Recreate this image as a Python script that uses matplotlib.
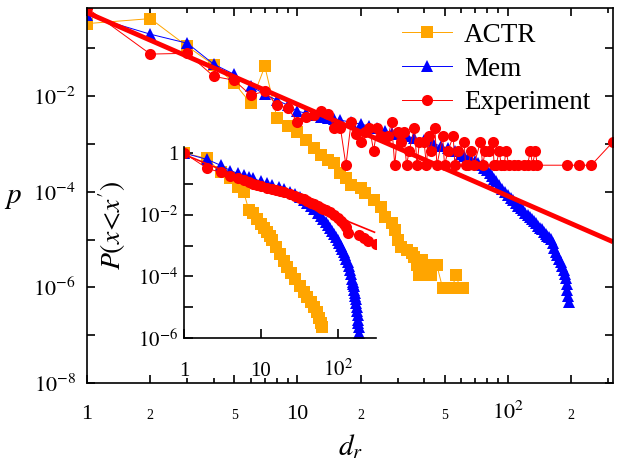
import matplotlib
matplotlib.use("Agg")
import matplotlib.pyplot as plt
from matplotlib.ticker import FixedLocator, FixedFormatter, NullFormatter, NullLocator

plt.rcParams['font.family'] = ['Liberation Serif', 'DejaVu Serif']
plt.rcParams['mathtext.fontset'] = 'stix'

# main panel: p(d_r)
actr_x = [1, 2, 3, 4, 5, 6, 7, 8, 9, 10, 11, 12, 13, 14, 15, 16, 17, 18,
          20, 21, 23, 25, 26, 28, 29, 30, 31, 33, 35, 36, 37, 38, 39, 40, 41, 43,
          46, 49, 52, 54, 57, 59, 61]
actr_p = [0.33, 0.42, 0.11, 0.045, 0.019, 0.0071, 0.042, 0.0035, 0.0024, 0.0018,
          0.0012, 8.3e-4, 5.8e-4, 4.6e-4, 4.0e-4, 2.45e-4, 1.93e-4, 1.37e-4,
          1.19e-4, 9.3e-5, 6.7e-5, 4.8e-5, 2.9e-5, 2.2e-5, 1.57e-5, 9.7e-6, 6.9e-6,
          6.0e-6, 5.2e-6, 4.3e-6, 2.9e-6, 1.8e-6, 3.7e-6, 1.8e-6, 2.9e-6, 1.8e-6,
          2.9e-6, 9.6e-7, 9.6e-7, 9.6e-7, 1.8e-6, 9.6e-7, 9.6e-7]

mem_x = [1, 2, 3, 4, 5, 6, 7, 8, 9, 10, 11, 12, 13, 14, 15, 16,
         18, 20, 22, 24, 26, 28, 30, 33, 36, 40, 44, 48, 52, 56, 60, 62,
         65, 67, 70, 72, 75, 77, 80, 82, 84, 86, 88, 91, 94, 97, 100, 103, 106,
         109, 112, 115, 118, 121, 124, 127, 130, 133, 136, 139, 142, 145, 148,
         151, 154, 157, 160, 163, 166, 169, 172, 175, 178, 181, 184, 186, 188,
         190, 192, 194, 195]
mem_p = [0.495, 0.198, 0.128, 0.0467, 0.0288, 0.0162, 0.011, 0.0082, 0.0065, 0.00486,
         0.0044, 0.0040, 0.00363, 0.00347, 0.00331, 0.00315,
         0.00286, 0.0026, 0.00236, 0.00214, 0.00185, 0.00168, 0.0016,
         0.00146, 0.00132, 0.0012, 0.00104, 0.0009, 0.00082, 0.00071, 0.00061, 5.6e-4,
         5.05e-4, 4.7e-4, 4.36e-4, 4.0e-4, 3.6e-4, 3.2e-4, 2.83e-4, 2.45e-4, 2.12e-4,
         1.88e-4, 1.67e-4, 1.37e-4, 1.13e-4, 9.8e-5, 8.5e-5, 7.5e-5, 6.7e-5,
         5.8e-5, 5.1e-5, 4.5e-5, 4.1e-5, 3.65e-5, 3.3e-5, 2.94e-5, 2.67e-5, 2.43e-5,
         2.2e-5, 1.95e-5, 1.77e-5, 1.65e-5, 1.46e-5, 1.33e-5, 1.21e-5, 1.12e-5,
         1.02e-5, 8.4e-6, 6.6e-6, 5.4e-6, 4.7e-6, 3.9e-6, 3.4e-6, 2.8e-6, 2.3e-6,
         1.9e-6, 1.56e-6, 1.17e-6, 8.7e-7, 6.5e-7, 4.9e-7]

exp_x = [1, 2, 3, 4, 5, 6, 7, 8, 9, 10, 11, 12, 13, 14, 15, 16, 17, 18, 19, 20,
         21, 22, 23, 24, 25, 27, 28, 29, 30, 31, 32, 33, 34, 36, 37, 38, 40, 41,
         42, 43, 45, 46, 49, 50, 52, 55, 56, 58, 62, 63, 65, 67, 69, 74, 76, 78,
         81, 85, 86, 88, 91, 93, 96, 98, 101, 107, 112, 119, 124, 128, 131, 135,
         138, 192, 218, 249, 315]
exp_p = [0.7, 0.076, 0.079, 0.026, 0.0216, 0.0105, 0.0127, 0.0065, 0.0056, 0.0029,
         0.0036, 0.0040, 0.0049, 0.0042, 0.0022, 0.0022, 0.00036, 0.0029, 0.0016,
         0.00109, 0.0018, 0.0022, 0.00073, 0.0022, 0.00145, 0.00145, 0.0029,
         0.00036, 0.0018, 0.00109, 0.0018, 0.00036, 0.00073, 0.0022, 0.00036,
         0.00109, 0.00109, 0.00036, 0.00145, 0.00073, 0.0022, 0.00036, 0.00145,
         0.00036, 0.00073, 0.00145, 0.00036, 0.00073, 0.00109, 0.00036, 0.00036,
         0.00073, 0.00036, 0.00109, 0.00036, 0.00073, 0.00073, 0.00109, 0.00036,
         0.00036, 0.00073, 0.00036, 0.00036, 0.00073, 0.00036, 0.00036, 0.00036,
         0.00036, 0.00036, 0.00073, 0.00036, 0.00073, 0.00036, 0.00036, 0.00036,
         0.00036, 0.00109]

fit_x = [1, 316]
fit_p = [0.56, 9e-6]

# inset: P(x<x')
in_actr_x = [1, 2, 3, 4, 5, 6, 7, 8, 9, 10, 11, 12, 13, 14, 16, 18, 20, 22, 25,
             28, 32, 36, 40, 45, 50, 54, 57, 60, 62]
in_actr_p = [1.0, 0.67, 0.235, 0.15, 0.077, 0.053, 0.0139, 0.0111, 0.0075, 0.0050,
             0.0036, 0.0027, 0.0020, 0.0015, 8.7e-4, 5.2e-4, 3.2e-4, 2.0e-4, 1.3e-4,
             8.5e-5, 5.0e-5, 3.2e-5, 2.1e-5, 1.5e-5, 1.0e-5, 7.0e-6, 4.5e-6, 3.0e-6,
             2.3e-6]

in_mem_x = [1, 2, 3, 4, 5, 6, 7, 8, 10, 12, 14, 17, 20, 24, 28, 32, 36, 40,
            45, 50, 55, 60, 65, 70, 75, 80, 85, 90, 95, 100, 105, 110, 115, 120,
            125, 130, 135, 140, 145, 150, 155, 158, 160, 162, 165, 168, 170, 172,
            175, 177, 180, 182, 185, 186, 188, 190]
in_mem_p = [1.0, 0.62, 0.40, 0.27, 0.22, 0.19, 0.162, 0.151, 0.12, 0.104, 0.089,
            0.077, 0.066, 0.053, 0.046, 0.0366, 0.0292, 0.0234,
            0.0187, 0.015, 0.0111, 0.0089, 0.0071, 0.0057, 0.00454, 0.00363, 0.0029,
            0.00232, 0.00186, 0.00149, 0.00119, 0.00095, 0.00076, 0.00061, 0.00049,
            0.00036, 0.00029, 2.14e-4, 1.59e-4, 1.18e-4, 8.1e-5, 6.5e-5, 5.6e-5,
            4.9e-5, 3.6e-5, 2.9e-5, 2.3e-5, 1.84e-5, 1.36e-5, 1.01e-5, 7.5e-6,
            5.6e-6, 3.8e-6, 3.1e-6, 2.3e-6, 1.45e-6]

in_exp_x = [1, 2, 3, 4, 5, 6, 7, 8, 9, 10, 12, 14, 16, 18, 20, 24, 28, 32, 36, 40,
            45, 50, 55, 60, 65, 70, 80, 90, 100, 110, 120, 130, 138, 192, 218, 249, 315]
in_exp_p = [1.0, 0.32, 0.235, 0.175, 0.15, 0.13, 0.112, 0.096, 0.089, 0.083,
            0.071, 0.066, 0.062, 0.057, 0.053, 0.046, 0.039, 0.034, 0.0315, 0.027,
            0.0234, 0.0217, 0.0187, 0.0161, 0.015, 0.0139, 0.012, 0.0096, 0.0076,
            0.0061, 0.0049, 0.0039, 0.0025, 0.0022, 0.0018, 0.00145, 0.00109]

in_fit_x = [1, 302]
in_fit_p = [0.9, 0.0027]

ORANGE = '#ffa500'
BLUE = '#0000ff'
RED = '#ff0000'

fig = plt.figure(figsize=(6.22, 4.68), dpi=100)
ax = fig.add_axes([87 / 622, 1 - 383 / 468, 526 / 622, 375 / 468])
ax.set_xscale('log')
ax.set_yscale('log')

ax.plot(actr_x, actr_p, '-', color=ORANGE, lw=0.7, marker='s', ms=8, mec=ORANGE, mew=0, label='ACTR')
ax.plot(mem_x, mem_p, '-', color=BLUE, lw=0.7, marker='^', ms=9, mec=BLUE, mew=0, label='Mem')
ax.plot(exp_x, exp_p, '-', color=RED, lw=0.7, marker='o', ms=8, mec=RED, mew=0, label='Experiment')
ax.plot(fit_x, fit_p, '-', color=RED, lw=3.5, solid_capstyle='butt')

ax.set_xlim(1, 316)
ax.set_ylim(1e-8, 0.7)

xmaj = [1, 2, 5, 10, 20, 50, 100, 200]
xlab = ['1', '2', '5', '10', '2', '5', r'$10^2$', '2']
ax.xaxis.set_major_locator(FixedLocator(xmaj))
ax.xaxis.set_major_formatter(FixedFormatter(xlab))
ax.xaxis.set_minor_locator(FixedLocator([3, 4, 6, 7, 8, 9, 30, 40, 60, 70, 80, 90, 300]))
ax.xaxis.set_minor_formatter(NullFormatter())

ydec = [1e-8, 1e-7, 1e-6, 1e-5, 1e-4, 1e-3, 1e-2, 1e-1]
ylab = [r'$10^{-8}$', '', r'$10^{-6}$', '', r'$10^{-4}$', '', r'$10^{-2}$', '']
ax.yaxis.set_major_locator(FixedLocator(ydec))
ax.yaxis.set_major_formatter(FixedFormatter(ylab))
ax.yaxis.set_minor_locator(NullLocator())

ax.tick_params(which='both', direction='in', top=True, right=True, width=1.2)
ax.tick_params(which='major', length=6)
ax.tick_params(which='minor', length=3.5)
ax.tick_params(axis='x', which='major', pad=26)
ax.tick_params(axis='y', which='major', pad=8, labelsize=16)
for lab, txt in zip(ax.get_xticklabels(), xlab):
    lab.set_verticalalignment('baseline')
    lab.set_fontsize(10 if txt in ('2', '5') else 16)
for s in ax.spines.values():
    s.set_linewidth(1.2)

fig.text(350 / 622, 1 - 447 / 468, r'$d_r$', fontsize=21, ha='center', va='center')
fig.text(13 / 622, 1 - 198 / 468, r'$p$', fontsize=21, ha='center', va='center')

ax.legend(loc='upper right', bbox_to_anchor=(0.977, 0.99), frameon=False, fontsize=19.5,
          handlelength=1.85, handletextpad=0.45, labelspacing=0.33, borderaxespad=0)

# inset
axi = fig.add_axes([184 / 622, 1 - 338 / 468, 192 / 622, 191 / 468])
axi.set_facecolor('none')
axi.set_xscale('log')
axi.set_yscale('log')
axi.plot(in_actr_x, in_actr_p, '-', color=ORANGE, lw=0.7, marker='s', ms=8, mec=ORANGE, mew=0)
axi.plot(in_mem_x, in_mem_p, '-', color=BLUE, lw=0.7, marker='^', ms=9, mec=BLUE, mew=0)
axi.plot(in_exp_x, in_exp_p, '-', color=RED, lw=0.7, marker='o', ms=8, mec=RED, mew=0)
axi.plot(in_fit_x, in_fit_p, '-', color=RED, lw=1.2)
axi.set_xlim(1, 316)
axi.set_ylim(1e-6, 1.57)
axi.spines['top'].set_visible(False)
axi.spines['right'].set_visible(False)
for s in ('left', 'bottom'):
    axi.spines[s].set_linewidth(1.2)

ixlab = ['1', '10', r'$10^2$']
axi.xaxis.set_major_locator(FixedLocator([1, 10, 100]))
axi.xaxis.set_major_formatter(FixedFormatter(ixlab))
axi.xaxis.set_minor_locator(NullLocator())
iydec = [1e-6, 1e-5, 1e-4, 1e-3, 1e-2, 1e-1, 1]
iylab = [r'$10^{-6}$', '', r'$10^{-4}$', '', r'$10^{-2}$', '', '1']
axi.yaxis.set_major_locator(FixedLocator(iydec))
axi.yaxis.set_major_formatter(FixedFormatter(iylab))
axi.yaxis.set_minor_locator(NullLocator())
axi.tick_params(which='major', direction='in', length=6.5, width=1.2, labelsize=15)
axi.tick_params(axis='x', pad=27)
axi.tick_params(axis='y', pad=4)
for lab in axi.get_xticklabels():
    lab.set_verticalalignment('baseline')

fig.text(112 / 622, 1 - 225 / 468, r"$P(x\!<\!x')$", fontsize=20, rotation=90,
         ha='center', va='center')

fig.savefig('out.png', dpi=100)
